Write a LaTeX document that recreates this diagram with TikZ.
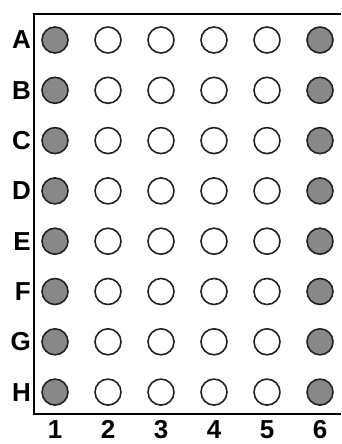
\documentclass[tikz,border=0pt]{standalone}
\usepackage{fontspec}
\setmainfont{Liberation Sans}
\definecolor{wellfill}{HTML}{888888}
\definecolor{wellline}{HTML}{222222}
\begin{document}
\begin{tikzpicture}[x=1pt,y=-1pt,
  well/.style={circle,draw=wellline,line width=1.6pt,minimum size=26pt,inner sep=0pt},
  ctrl/.style={well,fill=wellfill},
  lbl/.style={font=\bfseries\fontsize{26}{26}\selectfont,inner sep=0pt,text=black}]
\useasboundingbox (0,0) rectangle (341,444);
\draw[line width=1.6pt] (341,14) -- (34,14) -- (34,414) -- (341,414);
\foreach \r [count=\i from 0] in {A,B,C,D,E,F,G,H}{
  \pgfmathsetmacro{\yy}{40+50.3*\i}
  \node[lbl,anchor=east] (lab\r) at (31,\yy) {\r};
  \node[ctrl] (w\r1) at (55,\yy) {};
  \foreach \c/\xx in {2/108,3/161,4/214,5/267}{
    \node[well] (w\r\c) at (\xx,\yy) {};
  }
  \node[ctrl] (w\r6) at (320,\yy) {};
}
\foreach \c/\xx in {1/55,2/108,3/161,4/214,5/267,6/320}{
  \node[lbl,anchor=base] (col\c) at (\xx,438) {\c};
}
\end{tikzpicture}
\end{document}
